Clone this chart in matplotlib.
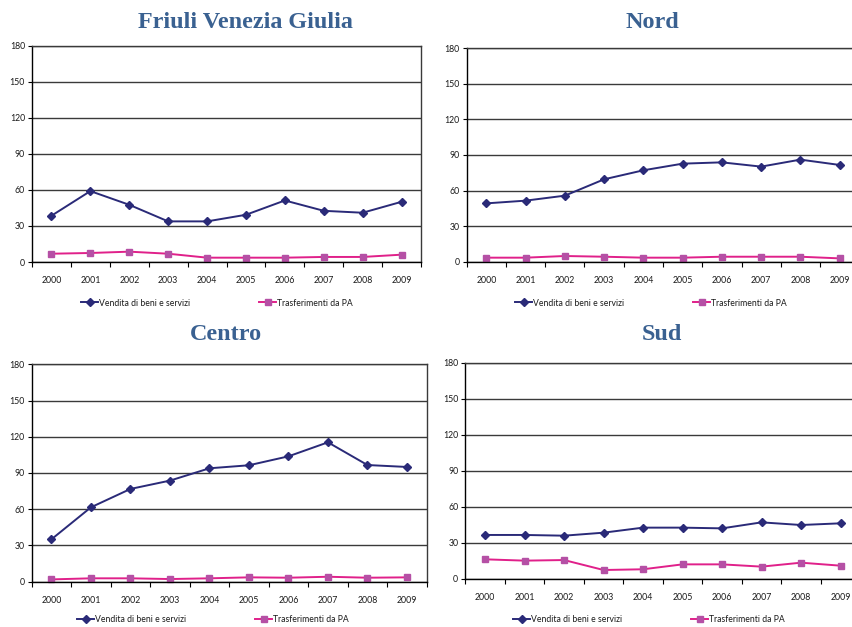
import matplotlib
matplotlib.use("Agg")
import matplotlib.pyplot as plt
from matplotlib.ticker import FixedLocator, NullFormatter

years = ["2000", "2001", "2002", "2003", "2004", "2005", "2006", "2007", "2008", "2009"]
y_ticks = [0, 30, 60, 90, 120, 150, 180]
series_names = ["Vendita di beni e servizi", "Trasferimenti da PA"]

titles = ["Friuli Venezia Giulia", "Nord", "Centro", "Sud"]

fvg_vendita = [38.5, 59.0, 47.6, 33.8, 33.8, 39.3, 51.2, 42.6, 41.0, 50.1]
fvg_trasf = [6.9, 7.5, 8.6, 6.9, 3.6, 3.6, 3.6, 4.2, 4.2, 6.1]

nord_vendita = [49.2, 51.5, 55.7, 69.5, 77.1, 82.7, 83.8, 80.2, 86.1, 81.6]
nord_trasf = [3.4, 3.4, 4.8, 4.2, 3.4, 3.4, 4.2, 4.2, 4.2, 2.8]

centro_vendita = [35.1, 61.6, 76.8, 83.7, 93.9, 96.4, 103.8, 115.4, 96.6, 95.0]
centro_trasf = [1.9, 2.8, 2.8, 2.2, 2.8, 3.6, 3.3, 4.1, 3.3, 3.6]

sud_vendita = [36.7, 36.7, 36.1, 38.6, 42.8, 42.8, 42.2, 47.2, 45.0, 46.4]
sud_trasf = [16.4, 15.3, 15.8, 7.5, 8.1, 12.2, 12.2, 10.3, 13.6, 11.1]

W, H = 852, 627
fig = plt.figure(figsize=(W / 100, H / 100), dpi=100)
fig.patch.set_facecolor("white")

NAVY = "#2a2a78"
PINK_LINE = "#e0208a"
PINK_MARK = "#b550a5"
TITLE_COL = "#3a6191"
TEXT_FONT = ["Lato", "DejaVu Sans"]

# panel boxes in pixels: left, top, right, bottom ; title centre ; legend centre
panels = [
    dict(box=(32, 45.7, 421, 262), title_xy=(245, 22), leg_x=217, leg_y=303,
         vend=fvg_vendita, trasf=fvg_trasf),
    dict(box=(466.7, 48.3, 859.3, 261.7), title_xy=(652, 22), leg_x=651, leg_y=303,
         vend=nord_vendita, trasf=nord_trasf),
    dict(box=(31.7, 364.3, 426.7, 581.7), title_xy=(226, 335), leg_x=213, leg_y=620,
         vend=centro_vendita, trasf=centro_trasf),
    dict(box=(465.3, 363, 860.3, 579), title_xy=(662, 335), leg_x=649, leg_y=620,
         vend=sud_vendita, trasf=sud_trasf),
]

x = list(range(len(years)))

for title, p in zip(titles, panels):
    l, t, r, b = p["box"]
    ax = fig.add_axes([l / W, 1 - b / H, (r - l) / W, (b - t) / H])
    ax.set_xlim(-0.5, len(years) - 0.5)
    ax.set_ylim(0, 180)

    ax.set_yticks(y_ticks)
    ax.yaxis.grid(True, color="#3a3a3a", linewidth=1.0)
    ax.set_axisbelow(True)

    # category boundaries carry tick marks, centres carry labels
    ax.xaxis.set_major_locator(FixedLocator([i - 0.5 for i in range(len(years) + 1)]))
    ax.xaxis.set_major_formatter(NullFormatter())
    ax.xaxis.set_minor_locator(FixedLocator(x))
    ax.set_xticklabels(years, minor=True)
    ax.tick_params(axis="x", which="major", direction="out", length=3.5, width=0.8, color="black")
    ax.tick_params(axis="x", which="minor", length=0, pad=10, labelsize=6.3)
    ax.tick_params(axis="y", direction="out", length=3, width=0.8, pad=2, labelsize=6.3)
    for lab in ax.get_xticklabels(minor=True) + ax.get_yticklabels():
        lab.set_fontfamily(TEXT_FONT)
        lab.set_color("#1a1a1a")

    for side in ["left", "bottom"]:
        ax.spines[side].set_color("black")
        ax.spines[side].set_linewidth(1.0)
    for side in ["top", "right"]:
        ax.spines[side].set_color("#3a3a3a")
        ax.spines[side].set_linewidth(1.0)

    ax.plot(x, p["vend"], color=NAVY, linewidth=1.4, marker="D", markersize=4,
            markerfacecolor=NAVY, markeredgecolor=NAVY, label=series_names[0], clip_on=False)
    ax.plot(x, p["trasf"], color=PINK_LINE, linewidth=1.4, marker="s", markersize=5,
            markerfacecolor=PINK_MARK, markeredgecolor=PINK_MARK, label=series_names[1], clip_on=False)

    tx, ty = p["title_xy"]
    fig.text(tx / W, 1 - ty / H, title, ha="center", va="center",
             fontfamily="Liberation Serif", fontweight="bold", fontsize=17.4, color=TITLE_COL)

    leg = ax.legend(loc="center", bbox_to_anchor=((p["leg_x"] - l) / (r - l), -(p["leg_y"] - b) / (b - t)),
                    ncol=2, frameon=False, fontsize=6.2, handlelength=2.0, handletextpad=0.1,
                    columnspacing=8.0, borderaxespad=0)
    for txt in leg.get_texts():
        txt.set_fontfamily(TEXT_FONT)
        txt.set_color("#1a1a1a")

fig.savefig("out.png", dpi=100, facecolor="white")
